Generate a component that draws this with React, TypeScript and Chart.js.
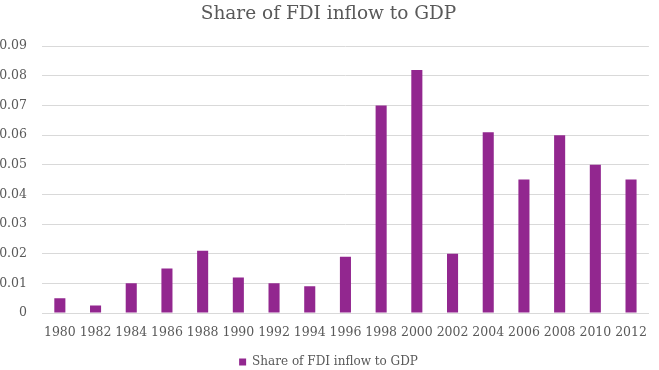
import React, { useEffect, useRef } from "react";
import { Chart, registerables } from "chart.js";

Chart.register(...registerables);

const title = "Share of FDI inflow to GDP";
const seriesName = "Share of FDI inflow to GDP";
const years = ["1980", "1982", "1984", "1986", "1988", "1990", "1992", "1994", "1996", "1998", "2000", "2002", "2004", "2006", "2008", "2010", "2012"];
const shares = [0.005, 0.0025, 0.010, 0.015, 0.021, 0.012, 0.010, 0.009, 0.019, 0.070, 0.082, 0.020, 0.061, 0.045, 0.060, 0.050, 0.045];

const FONT = "'DejaVu Serif', serif";
const TEXT = "#595959";
const GRID = "#D9D9D9";
const BAR = "#92278F";

export default function App() {
  const ref = useRef<HTMLCanvasElement | null>(null);
  useEffect(() => {
    document.body.style.margin = "0";
    const chart = new Chart(ref.current!, {
      type: "bar",
      data: {
        labels: years,
        datasets: [
          {
            label: seriesName,
            data: shares,
            backgroundColor: BAR,
            borderWidth: 0,
            categoryPercentage: 1,
            barPercentage: 0.31,
          },
        ],
      },
      options: {
        animation: false,
        responsive: false,
        layout: { padding: { left: 0, right: 2, top: 0, bottom: -8 } },
        plugins: {
          title: {
            display: true,
            text: title,
            color: TEXT,
            font: { family: FONT, size: 18.5, weight: "normal" },
            padding: { top: 3, bottom: 21 },
          },
          legend: {
            position: "bottom",
            labels: {
              color: TEXT,
              font: { family: FONT, size: 12 },
              boxWidth: 7,
              boxHeight: 7,
              padding: 3,
            },
          },
          tooltip: { enabled: false },
        },
        scales: {
          x: {
            grid: { display: false, drawTicks: false },
            border: { display: true, color: GRID },
            ticks: { color: TEXT, font: { family: FONT, size: 12.5 }, padding: 12, maxRotation: 0, autoSkip: false },
            afterFit: (s: any) => { s.height = 40; },
          },
          y: {
            min: 0,
            max: 0.09,
            grid: { color: GRID, drawTicks: false },
            border: { display: false },
            ticks: {
              stepSize: 0.01,
              color: TEXT,
              font: { family: FONT, size: 12.5 },
              padding: 15,
              callback: (v: any) => (Number(v) === 0 ? "0" : Number(v).toFixed(2)),
            },
            afterFit: (s: any) => { s.width = 42; },
          },
        },
      },
    });
    return () => chart.destroy();
  }, []);
  return (
    <div style={{ position: "absolute", left: 0, top: 0, width: 659, height: 370 }}>
      <canvas ref={ref} width={659} height={370} />
    </div>
  );
}
